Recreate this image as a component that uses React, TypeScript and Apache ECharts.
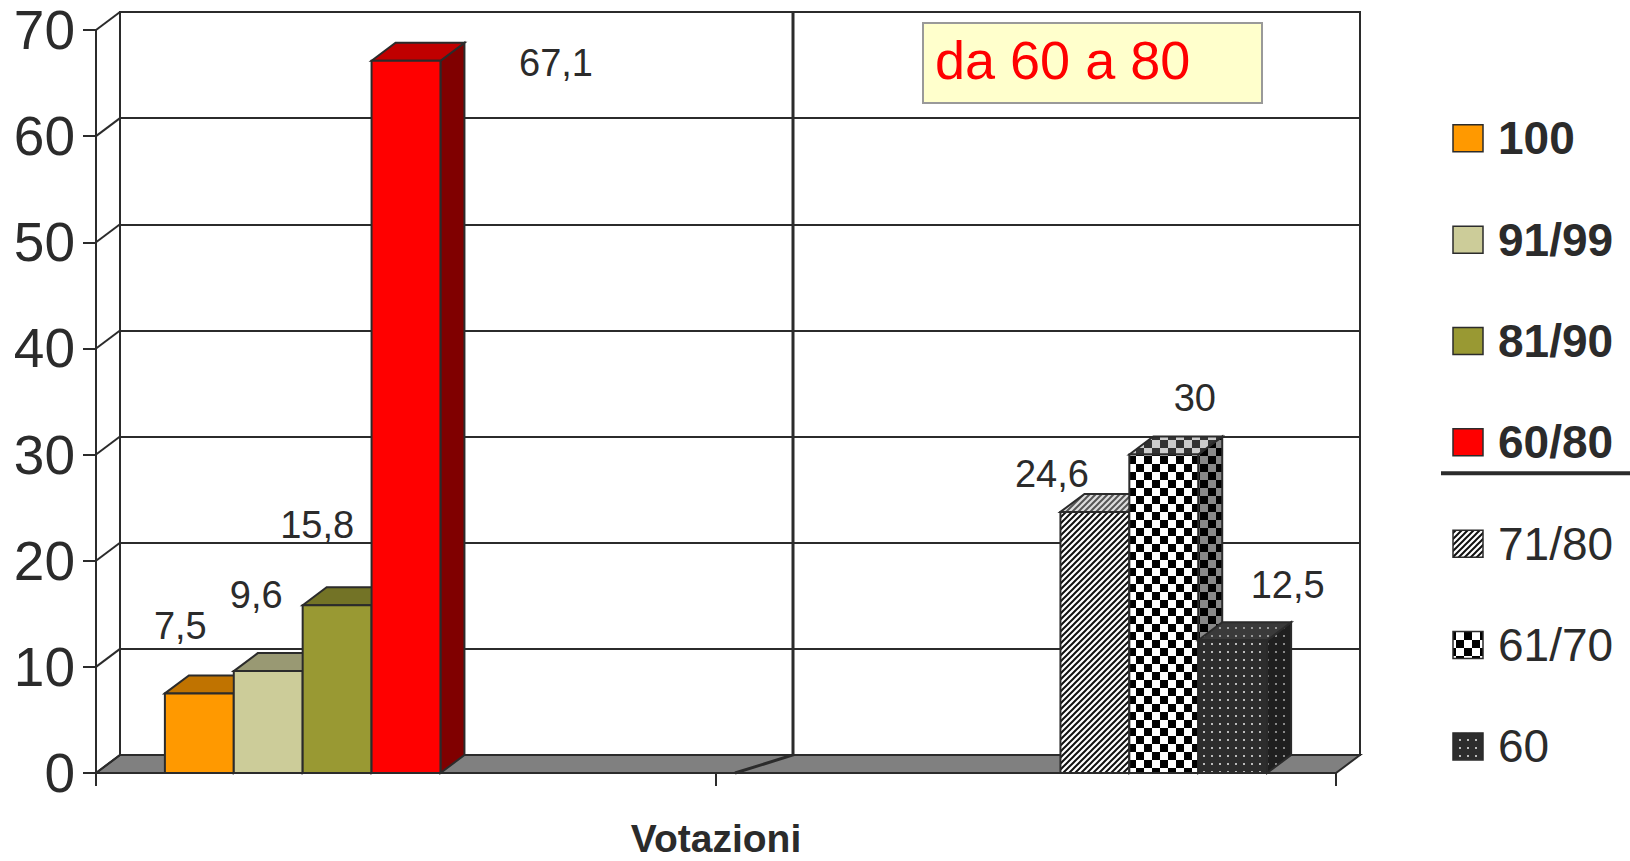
import React, { useEffect, useRef } from "react";
import * as echarts from "echarts";

// ---------- data ----------
const categories = ["Gruppo A", "Gruppo B"];
const seriesNames = ["100", "91/99", "81/90", "60/80", "71/80", "61/70", "60"];
const seriesCategory = [0, 0, 0, 0, 1, 1, 1];
const seriesValues = [7.5, 9.6, 15.8, 67.1, 24.6, 30, 12.5];
const yTicks = [0, 10, 20, 30, 40, 50, 60, 70];
const axisName = "Votazioni";
const boxTitle = "da 60 a 80";
const boldLegendCount = 4;

// ---------- layout / style ----------
const W = 1630;
const H = 861;
const GRID = { left: 96, top: 30, right: 294, bottom: 88 };
const DX = 24;
const DY = -18;
const SLOTS = 9;
const EDGE = "#2b2b2b";
const TEXT = "#2b2b2b";
const FONT = "Liberation Sans, Arial, sans-serif";
const LABEL_OFFSETS = [
  [-19, -67],
  [-12, -76],
  [-20, -80],
  [150, 2],
  [-43, -38],
  [31, -57],
  [55, -55],
];
const LEGEND = { markX: 1453, markW: 30, markH: 27, textX: 1498, firstY: 138.3, step: 101.35, fontSize: 46 };

function tile(size: number, draw: (ctx: CanvasRenderingContext2D, s: number) => void) {
  const c = document.createElement("canvas");
  c.width = size;
  c.height = size;
  const ctx = c.getContext("2d") as CanvasRenderingContext2D;
  draw(ctx, size);
  return { image: c, repeat: "repeat" } as any;
}
function stripes(bg: string, fg: string) {
  return tile(6, (ctx, s) => {
    ctx.fillStyle = bg;
    ctx.fillRect(0, 0, s, s);
    ctx.strokeStyle = fg;
    ctx.lineWidth = 2;
    ctx.beginPath();
    ctx.moveTo(-1, s + 1);
    ctx.lineTo(s + 1, -1);
    ctx.moveTo(-s / 2 - 1, s / 2 + 1);
    ctx.lineTo(s / 2 + 1, -s / 2 - 1);
    ctx.moveTo(s / 2 - 1, s * 1.5 + 1);
    ctx.lineTo(s * 1.5 + 1, s / 2 - 1);
    ctx.stroke();
  });
}
function checker(a: string, b: string) {
  return tile(16, (ctx, s) => {
    ctx.fillStyle = a;
    ctx.fillRect(0, 0, s, s);
    ctx.fillStyle = b;
    ctx.fillRect(0, 0, s / 2, s / 2);
    ctx.fillRect(s / 2, s / 2, s / 2, s / 2);
  });
}
function dots(bg: string, dot: string) {
  return tile(8, (ctx, s) => {
    ctx.fillStyle = bg;
    ctx.fillRect(0, 0, s, s);
    ctx.fillStyle = dot;
    ctx.fillRect(3, 3, 2, 2);
  });
}

export default function App() {
  const ref = useRef<HTMLDivElement>(null);

  useEffect(() => {
    if (!ref.current) return;
    const chart = echarts.init(ref.current, undefined, { renderer: "svg" });

    const faces: any[] = [
      { front: "#FF9900", top: "#C07300", side: "#9C5E00" },
      { front: "#CCCC99", top: "#999973", side: "#7A7A5C" },
      { front: "#999933", top: "#737326", side: "#5C5C1F" },
      { front: "#FF0000", top: "#C00000", side: "#800000" },
      { front: stripes("#ffffff", "#111111"), top: stripes("#dddddd", "#555555"), side: stripes("#888888", "#111111") },
      { front: checker("#ffffff", "#000000"), top: checker("#cccccc", "#333333"), side: checker("#888888", "#000000") },
      { front: dots("#2d2d2d", "#bbbbbb"), top: dots("#3a3a3a", "#999999"), side: dots("#1f1f1f", "#888888") },
    ];

    const yMax = yTicks[yTicks.length - 1];

    const frameSeries: any = {
      type: "custom",
      name: "frame",
      xAxisIndex: 0,
      yAxisIndex: 0,
      z: 2,
      clip: false,
      silent: true,
      data: yTicks.map((v) => [0, v]),
      renderItem: (params: any, api: any) => {
        const c = api.coord([0, api.value(1)]);
        const band = api.size([1, 0])[0];
        const xL = c[0] - band / 2;
        const children: any[] = [];
        if (params.dataIndex === 0) {
          const xR = xL + categories.length * band;
          const y0 = c[1];
          children.push({
            type: "polygon",
            shape: { points: [[xL, y0], [xL + DX, y0 + DY], [xR + DX, y0 + DY], [xR, y0]] },
            style: { fill: "#808080", stroke: EDGE, lineWidth: 2 },
          });
          const topBack = api.coord([0, yMax])[1] + DY;
          const bx = xL + band;
          children.push({
            type: "polyline",
            shape: { points: [[bx + 77, topBack], [bx + 77, y0 + DY], [bx + 19, y0]] },
            style: { fill: "none", stroke: EDGE, lineWidth: 3 },
          });
        }
        children.push({
          type: "line",
          shape: { x1: xL, y1: c[1], x2: xL + DX, y2: c[1] + DY },
          style: { stroke: EDGE, lineWidth: 2 },
        });
        return { type: "group", children };
      },
    };

    const barSeries: any[] = seriesNames.map((name, i) => ({
      type: "custom",
      name,
      xAxisIndex: 0,
      yAxisIndex: 0,
      z: 3 + i,
      clip: false,
      data: [[seriesCategory[i], seriesValues[i]]],
      renderItem: (params: any, api: any) => {
        const cat = api.value(0);
        const v = api.value(1);
        const top = api.coord([cat, v]);
        const base = api.coord([cat, 0]);
        const band = api.size([1, 0])[0];
        const w = band / SLOTS;
        const x0 = top[0] - band / 2 + (i + 1) * w;
        const x1 = x0 + w;
        const yt = top[1];
        const yb = base[1];
        const f = faces[i];
        const label = String(v).replace(".", ",");
        return {
          type: "group",
          children: [
            {
              type: "polygon",
              shape: { points: [[x1, yt], [x1 + DX, yt + DY], [x1 + DX, yb + DY], [x1, yb]] },
              style: { fill: f.side, stroke: EDGE, lineWidth: 2 },
            },
            {
              type: "polygon",
              shape: { points: [[x0, yt], [x0 + DX, yt + DY], [x1 + DX, yt + DY], [x1, yt]] },
              style: { fill: f.top, stroke: EDGE, lineWidth: 2 },
            },
            {
              type: "rect",
              shape: { x: x0, y: yt, width: w, height: yb - yt },
              style: { fill: f.front, stroke: EDGE, lineWidth: 2 },
            },
            {
              type: "text",
              z2: 50,
              style: {
                text: label,
                x: x0 + w / 2 + LABEL_OFFSETS[i][0],
                y: yt + LABEL_OFFSETS[i][1],
                fill: TEXT,
                fontSize: 38,
                fontFamily: FONT,
                align: "center",
                verticalAlign: "middle",
              },
            },
          ],
        };
      },
    }));

    const legendGraphics: any[] = [];
    seriesNames.forEach((name, i) => {
      const cy = LEGEND.firstY + i * LEGEND.step;
      legendGraphics.push({
        type: "rect",
        shape: { x: LEGEND.markX, y: cy - LEGEND.markH / 2, width: LEGEND.markW, height: LEGEND.markH },
        style: { fill: faces[i].front, stroke: EDGE, lineWidth: 1.5 },
      });
      legendGraphics.push({
        type: "text",
        x: LEGEND.textX,
        y: cy,
        style: {
          text: name,
          x: 0,
          y: 0,
          fill: TEXT,
          fontSize: LEGEND.fontSize,
          fontWeight: i < boldLegendCount ? "bold" : "normal",
          fontFamily: FONT,
          align: "left",
          verticalAlign: "middle",
        },
      });
    });
    const sepY = LEGEND.firstY + (boldLegendCount - 1) * LEGEND.step + 31;
    legendGraphics.push({
      type: "line",
      shape: { x1: 1441, y1: sepY, x2: W, y2: sepY },
      style: { stroke: EDGE, lineWidth: 4 },
    });

    const option: any = {
      animation: false,
      backgroundColor: "#ffffff",
      title: {
        text: boxTitle,
        left: 923,
        top: 23,
        padding: [7, 72, 13, 12],
        backgroundColor: "#ffffcc",
        borderColor: "#999999",
        borderWidth: 2,
        textStyle: { color: "#ff0000", fontSize: 54, fontWeight: "normal", fontFamily: FONT, lineHeight: 60 },
      },
      grid: [
        {
          left: GRID.left,
          top: GRID.top,
          right: GRID.right,
          bottom: GRID.bottom,
          show: false,
          containLabel: false,
          outerBoundsMode: "none",
        },
        {
          left: GRID.left + DX,
          top: GRID.top + DY,
          right: GRID.right - DX,
          bottom: GRID.bottom - DY,
          show: true,
          borderColor: EDGE,
          borderWidth: 2,
          backgroundColor: "transparent",
          containLabel: false,
          outerBoundsMode: "none",
        },
      ],
      xAxis: [
        {
          type: "category",
          gridIndex: 0,
          data: categories,
          boundaryGap: true,
          axisLine: { show: true, lineStyle: { color: EDGE, width: 2 } },
          axisTick: { show: true, length: 13, lineStyle: { color: EDGE, width: 2 } },
          axisLabel: { show: false },
          name: axisName,
          nameLocation: "middle",
          nameGap: 46,
          nameTextStyle: { fontSize: 39, fontWeight: "bold", color: TEXT, fontFamily: FONT },
        },
        { type: "category", gridIndex: 1, data: categories, show: false },
      ],
      yAxis: [
        {
          type: "value",
          gridIndex: 0,
          min: 0,
          max: yMax,
          interval: 10,
          axisLine: { show: true, lineStyle: { color: EDGE, width: 2 } },
          axisTick: { show: true, length: 13, lineStyle: { color: EDGE, width: 2 } },
          axisLabel: { fontSize: 55, color: TEXT, margin: 21, fontFamily: FONT },
          splitLine: { show: false },
        },
        {
          type: "value",
          gridIndex: 1,
          min: 0,
          max: yMax,
          interval: 10,
          axisLine: { show: false },
          axisTick: { show: false },
          axisLabel: { show: false },
          splitLine: { show: true, lineStyle: { color: EDGE, width: 2 } },
        },
      ],
      graphic: legendGraphics,
      series: [frameSeries, ...barSeries],
    };

    chart.setOption(option);
    return () => chart.dispose();
  }, []);

  return (
    <div
      ref={ref}
      style={{ position: "fixed", left: 0, top: 0, width: W, height: H, background: "#fff" }}
    />
  );
}
